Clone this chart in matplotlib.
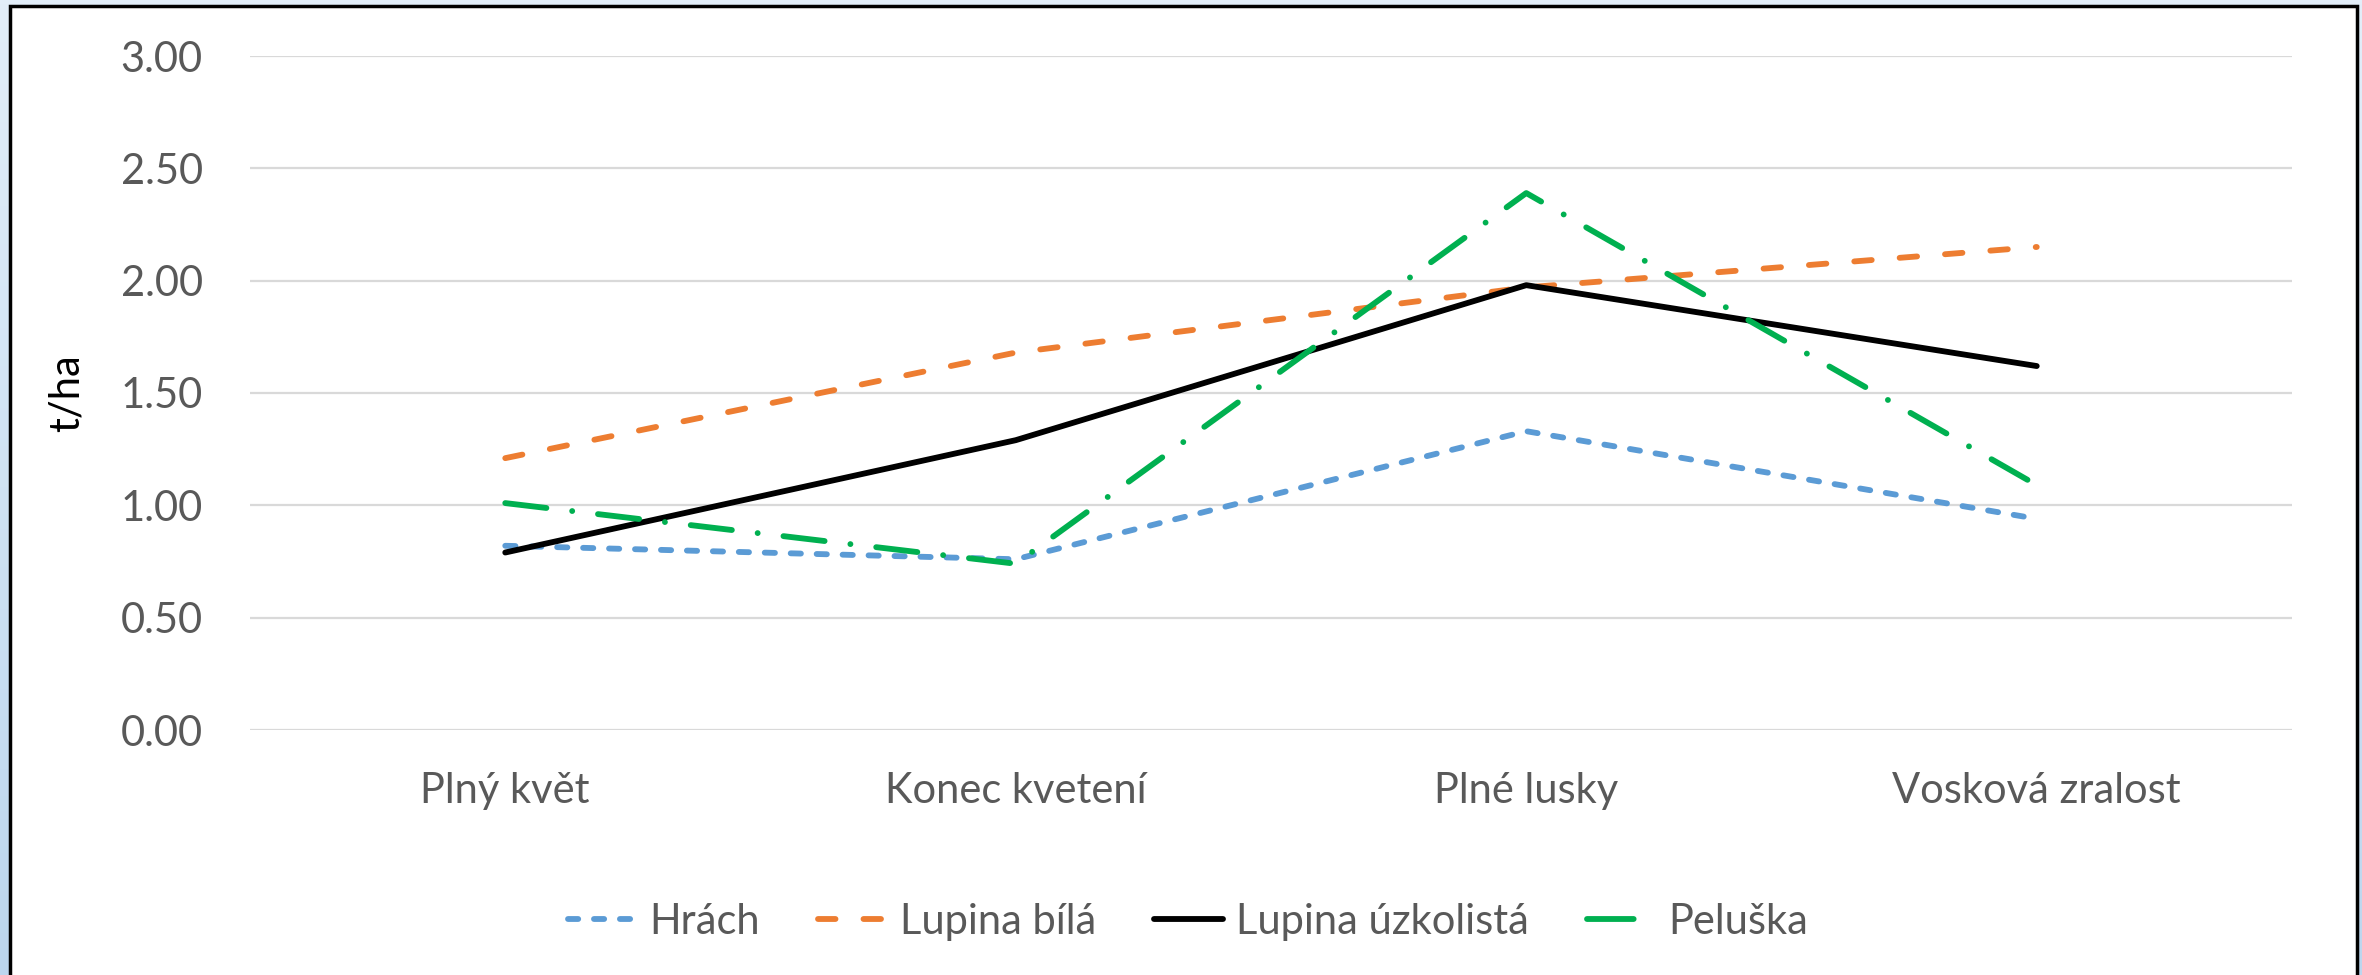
import matplotlib
matplotlib.use("Agg")
import matplotlib.pyplot as plt
import matplotlib.patches as mpatches
from matplotlib.colors import LinearSegmentedColormap
from matplotlib.lines import Line2D
import numpy as np

# data
categories = ["Plný květ", "Konec kvetení", "Plné lusky", "Vosková zralost"]
hrach = [0.82, 0.76, 1.33, 0.94]
lupina_bila = [1.21, 1.68, 1.97, 2.15]
lupina_uzkolista = [0.79, 1.29, 1.98, 1.62]
peluska = [1.01, 0.74, 2.39, 1.09]
series_names = ["Hrách", "Lupina bílá", "Lupina úzkolistá", "Peluška"]
y_ticks = [0.0, 0.5, 1.0, 1.5, 2.0, 2.5, 3.0]

FONT = "Lato"
TXT = "#595959"

fig = plt.figure(figsize=(23.62, 9.75), dpi=100)

# light blue page background with gradient
bg = fig.add_axes([0, 0, 1, 1], zorder=-10)
grad = np.linspace(0, 1, 256).reshape(-1, 1)
cmap = LinearSegmentedColormap.from_list("bgc", ["#E2EEF9", "#BCD6EE"])
bg.imshow(grad, aspect="auto", cmap=cmap, extent=[0, 1, 0, 1], origin="upper")
bg.set_axis_off()

# white chart area with black frame
frame = mpatches.Rectangle((10 / 2362, -0.05), (2357 - 10) / 2362, 1.05 - 6 / 975,
                           transform=fig.transFigure, facecolor="white",
                           edgecolor="black", linewidth=2.5, zorder=-5)
fig.patches.append(frame)

ax = fig.add_axes([250 / 2362, 1 - 730 / 975, (2292 - 250) / 2362, (730 - 56) / 975])
ax.set_facecolor("none")
x = np.arange(len(categories))

lw = 4.2
h1, = ax.plot(x, hrach, color="#5B9BD5", lw=lw, dashes=(1.75, 2.7),
              dash_capstyle="round", label=series_names[0])
h2, = ax.plot(x, lupina_bila, color="#ED7D31", lw=lw, dashes=(3.0, 4.8),
              dash_capstyle="round", label=series_names[1])
h3, = ax.plot(x, lupina_uzkolista, color="black", lw=lw,
              solid_capstyle="round", label=series_names[2])
ax.plot(x, peluska, color="#00B050", lw=lw, dashes=(7.1, 4.45, 0.01, 4.45),
        dash_capstyle="round", label=series_names[3])
# legend proxy: only the first long dash shows in the short handle
h4 = Line2D([], [], color="#00B050", lw=lw, dashes=(8.0, 12.0),
            dash_capstyle="round")

ax.set_xlim(-0.5, len(categories) - 0.5)
ax.set_ylim(0, 3)
ax.set_yticks(y_ticks)
ax.set_yticklabels([f"{v:.2f}" for v in y_ticks])
ax.set_xticks(x)
ax.set_xticklabels(categories)
ax.yaxis.grid(True, color="#D9D9D9", linewidth=1.6)
ax.set_axisbelow(True)
ax.tick_params(axis="both", length=0, labelsize=30, labelcolor=TXT)
ax.tick_params(axis="y", pad=34)
ax.tick_params(axis="x", pad=30)
for lab in ax.get_xticklabels() + ax.get_yticklabels():
    lab.set_fontfamily(FONT)
for s in ax.spines.values():
    s.set_visible(False)

ax.set_ylabel("t/ha", fontsize=30, family=FONT, color="black", labelpad=25)

leg = fig.legend([h1, h2, h3, h4], series_names,
                 loc="center", bbox_to_anchor=(0.503, 1 - 922 / 975), ncol=4,
                 frameon=False, prop={"family": FONT, "size": 30},
                 handlelength=1.65, handletextpad=0.3, columnspacing=1.4)
for t in leg.get_texts():
    t.set_color(TXT)

fig.savefig("out.png", dpi=100)
